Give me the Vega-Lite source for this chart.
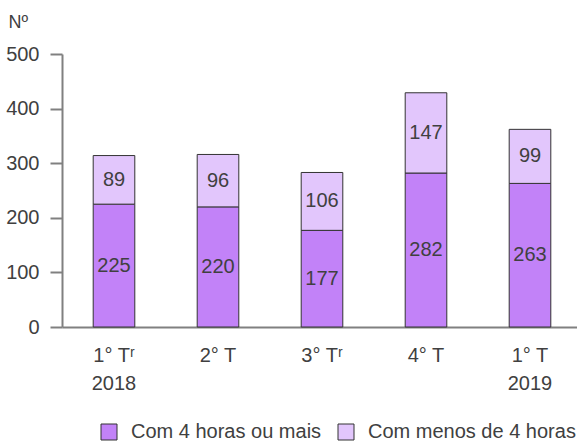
{
  "$schema": "https://vega.github.io/schema/vega-lite/v6.json",
  "width": 520,
  "height": 273,
  "autosize": {"type": "none"},
  "padding": {"left": 62, "top": 54, "right": 0, "bottom": 117},
  "config": {"view": {"stroke": null}, "font": "Liberation Sans"},
  "data": {"values": [
    {"q": "1° Tʳ|2018", "s": "Com 4 horas ou mais", "o": 1, "n": 225},
    {"q": "1° Tʳ|2018", "s": "Com menos de 4 horas", "o": 2, "n": 89},
    {"q": "2° T", "s": "Com 4 horas ou mais", "o": 1, "n": 220},
    {"q": "2° T", "s": "Com menos de 4 horas", "o": 2, "n": 96},
    {"q": "3° Tʳ", "s": "Com 4 horas ou mais", "o": 1, "n": 177},
    {"q": "3° Tʳ", "s": "Com menos de 4 horas", "o": 2, "n": 106},
    {"q": "4° T", "s": "Com 4 horas ou mais", "o": 1, "n": 282},
    {"q": "4° T", "s": "Com menos de 4 horas", "o": 2, "n": 147},
    {"q": "1° T|2019", "s": "Com 4 horas ou mais", "o": 1, "n": 263},
    {"q": "1° T|2019", "s": "Com menos de 4 horas", "o": 2, "n": 99}
  ]},
  "transform": [
    {"stack": "n", "groupby": ["q"], "sort": [{"field": "o"}], "as": ["y0", "y1"]},
    {"calculate": "(datum.y0 + datum.y1) / 2", "as": "ym"}
  ],
  "encoding": {
    "x": {
      "field": "q", "type": "nominal", "sort": null,
      "scale": {"paddingInner": 0.6, "paddingOuter": 0.3},
      "axis": {
        "title": null, "labelAngle": 0, "ticks": false,
        "domainColor": "#808080", "domainWidth": 2,
        "labelFontSize": 20, "labelColor": "#404040",
        "labelPadding": 18, "labelLineHeight": 28, "labelBaseline": "top",
        "labelExpr": "split(datum.label, '|')"
      }
    }
  },
  "layer": [
    {
      "mark": {"type": "bar", "stroke": "#333333", "strokeWidth": 1},
      "encoding": {
        "y": {
          "field": "y0", "type": "quantitative",
          "scale": {"domain": [0, 500]},
          "axis": {
            "values": [0, 100, 200, 300, 400, 500], "grid": false,
            "domainColor": "#808080", "domainWidth": 2,
            "tickColor": "#808080", "tickWidth": 2, "tickSize": 12,
            "labelFontSize": 20, "labelColor": "#404040", "labelPadding": 11,
            "title": "Nº", "titleAngle": 0, "titleX": -54, "titleY": -27,
            "titleAlign": "left", "titleBaseline": "alphabetic",
            "titleFontSize": 18, "titleFontWeight": "normal", "titleColor": "#404040"
          }
        },
        "y2": {"field": "y1"},
        "color": {
          "field": "s", "type": "nominal",
          "scale": {"domain": ["Com 4 horas ou mais", "Com menos de 4 horas"], "range": ["#C282F8", "#E2C6FC"]},
          "legend": {
            "title": null, "orient": "none", "direction": "horizontal",
            "legendX": 37, "legendY": 368,
            "symbolType": "square", "symbolSize": 256,
            "symbolStrokeColor": "#333333", "symbolStrokeWidth": 1,
            "labelFontSize": 20, "labelColor": "#404040", "labelLimit": 400,
            "labelOffset": 12, "columnPadding": 14
          }
        }
      }
    },
    {
      "mark": {"type": "text", "fontSize": 20, "color": "#404040"},
      "encoding": {
        "y": {"field": "ym", "type": "quantitative"},
        "text": {"field": "n", "type": "quantitative"}
      }
    }
  ]
}
